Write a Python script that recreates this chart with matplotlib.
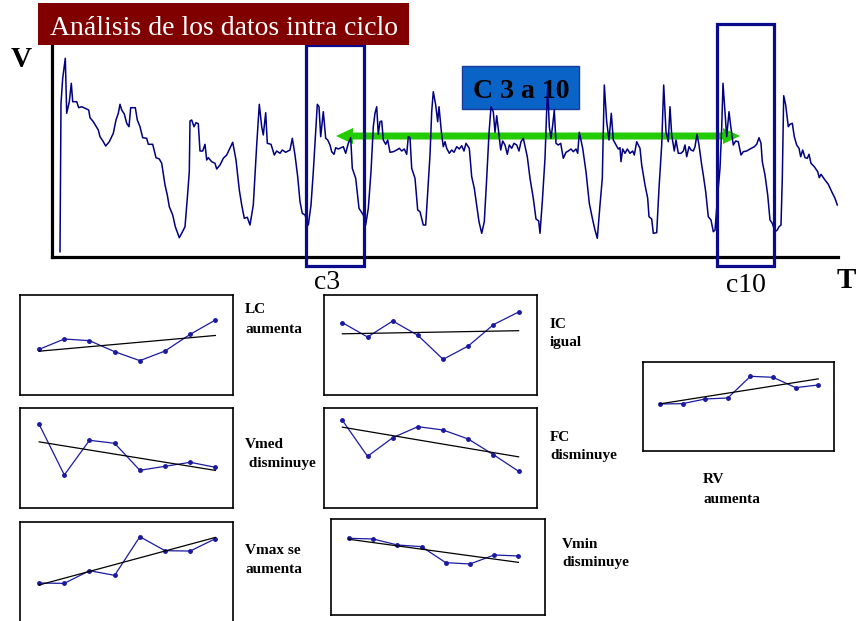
import numpy as np
import matplotlib.pyplot as plt
from matplotlib.patches import Rectangle, FancyArrow

# velocity trace (time units, velocity units)
t = [8, 9, 10.7, 13.3, 14.7, 17.3, 19.3, 20.7, 24.7, 26.7,
     29.7, 34.7, 36.7, 38, 41.3, 46.3, 48, 51.3, 53.7, 57.3,
     61.3, 64, 66.3, 68, 69.7, 72.3, 74.7, 77, 78.7, 83.3,
     85.3, 88, 90.7, 94.7, 96.3, 100.7, 104, 107.3, 109.7, 113,
     115.3, 117.3, 120.7, 123.3, 127.3, 130, 133, 135.3, 137.3, 138,
     139.7, 142, 144, 146.3, 148, 150.7, 153, 154.7, 156.3, 159.7,
     163, 164.7, 168, 171.3, 174.7, 180.7, 184, 187.3, 189.7, 192.3,
     195.3, 198,
     201.3, 204.7, 207.3, 209.7, 211.3, 213.7, 215.3, 219, 222.3, 224.7,
     228, 230.3, 233.7, 238, 240.3, 243, 245.7, 248, 250.3, 253,
     256.3, 259, 261.3, 263.7, 265.3, 267, 268.7, 271.3, 273.7, 275.7,
     278, 279.7, 282, 283.7, 286.3, 289, 291.3, 293.7, 296.3, 298.7,
     300.3, 303.7, 307, 311.3, 313.7, 316.3, 319, 321.3, 323, 324.7,
     326.3, 328, 329.7, 331.3, 333.7, 335.7, 338, 341.3, 344.7, 347.3,
     349.7, 352.3, 354.7, 356.3, 358, 359.7, 363, 365.7, 368, 371.3,
     373.7, 375.7, 378, 379.7, 381.3, 383.7, 385.7, 387, 389.7, 391.3,
     393,
     394.7, 397.3, 399.7, 402, 404.7, 407.3, 409.7, 412, 414, 417.3,
     419.7, 422.3, 424.7, 427, 429.7, 432.3, 434.7, 437, 439, 441.3,
     443, 444.7, 446.7, 448.7, 450.7, 453, 455.3, 457.3, 459.7, 462,
     464.7, 467, 469, 471.3, 475.3, 478, 481.3, 484, 486.7, 488,
     490.3, 493, 494.7, 495.7, 497.3, 499, 500.7, 502.3, 504, 506.3,
     508.7, 511.3, 514, 516.3, 519, 521.3, 524, 525.7, 527.3, 530.7,
     534, 537.3, 540.7, 543, 545.3, 548, 550.3, 552.3, 554.7, 557,
     559.3, 561.3, 563.7, 566.3, 568, 569, 570.7, 573, 575.3, 578,
     580.7, 582.3, 584.7,
     588, 589.7, 593, 595.7, 597, 599.7, 601.3, 604.7, 607, 609.7,
     611.7, 614, 616.3, 618, 619.7, 622.3, 624, 626.3, 629, 631.3,
     633, 634.7, 637, 639, 641.3, 643, 645, 647, 649.7, 651.3,
     653.7, 656.3, 659, 661.3, 663, 665.7, 668, 669.7, 671, 673,
     674.7, 677, 679, 681.3, 683.7, 686.3, 689, 691.3, 694.7, 698,
     702.3, 704.7, 707, 709, 710.3, 713, 715.7, 718, 720.3, 723,
     725.3, 727, 729, 730.3, 731.7, 733.7, 736.3, 738, 740.3, 742.3,
     744.7, 747, 748.7, 750.7, 753, 755.3, 757, 759, 762.3, 765.7,
     767.3, 769, 773, 776.3, 779.7, 783, 785.3]
v = [5.3, 153.7, 178.7, 198.7, 143.7, 155.3, 173.7, 155.3, 155.3, 149.3,
     150.3, 148, 147, 139.3, 135.3, 127, 120.3, 115.3, 111, 115.3,
     123.7, 137, 143.7, 152.7, 147, 143, 133.7, 130.3, 149.3, 149.3,
     137, 130.3, 119.3, 118.7, 112.7, 112.7, 99.3, 98, 93.7, 72,
     62, 50.3, 42, 30.3, 19.3, 24.3, 30.3, 58.7, 85.3, 136,
     137, 130.3, 134.3, 133.3, 106, 106, 112.7, 97, 99.3, 95.3,
     93.7, 88, 92, 98.7, 102, 114.7, 97, 67, 52, 38.7,
     39.7, 32,
     52, 112, 152.7, 130.3, 122, 144.3, 113.7, 112.7, 102, 106,
     103.7, 107, 104.7, 107, 118.7, 102, 80.3, 55.3, 43.7, 42,
     32, 52, 85.3, 125.3, 152.7, 150.3, 120.3, 145.3, 118.7, 117,
     112, 105.3, 102.7, 109.3, 108, 109.3, 110.3, 103.7, 113.7, 119.3,
     88.7, 78.7, 48.7, 42, 32, 48.7, 85.3, 130.3, 143.7, 150.3,
     122.7, 135.3, 136, 117, 112.7, 117, 104.7, 105.3, 107, 108.7,
     106, 108, 102.7, 120.3, 119.3, 88.7, 78.7, 47, 45.3, 32,
     32, 65.3, 102, 145.3, 165.3, 152, 135.3, 150.3, 122, 110.3,
     115.3,
     108.7, 103.7, 107, 104.7, 110.3, 108, 111.3, 106, 113.7, 108.7,
     80.3, 68.7, 52, 35.3, 23.7, 35.3, 78.7, 123.7, 150.3, 145.3,
     124.7, 141.3, 124.7, 107, 116, 112, 102.7, 112, 108.7, 113.7,
     112, 106, 115.3, 118.7, 100.3, 78.7, 58.7, 38, 36, 23.7,
     55.3, 98.7, 147, 168.7, 130.3, 118.7, 132, 147, 113.7, 112,
     113.7, 98.7, 104.7, 106, 108, 105.3, 108, 103.7, 124.7, 108.7,
     85.3, 53.7, 37, 27, 18.7, 52, 78.7, 172, 135.3, 117,
     143.7, 117, 112.7, 108, 109.3, 95.3, 108, 103.7, 108, 103.7,
     106, 102, 115.3,
     108.7, 92, 72, 58.7, 40.3, 38, 23.7, 24.3, 68.7, 112,
     172, 125.3, 115.3, 150.3, 122, 106, 117, 103.7, 103.7, 106,
     112, 100.3, 110.3, 107, 106, 110.3, 122.7, 112, 92, 82,
     65.3, 40.3, 37, 25.3, 27, 62, 88.7, 128.7, 173.7, 145.3,
     120.3, 145.3, 128.7, 112, 116, 115.3, 102, 105.3, 106, 108,
     110.3, 112.7, 119.3, 113.7, 95.3, 82, 62, 37, 33.7, 25.3,
     27, 30.3, 32, 78.7, 161.3, 152, 130.3, 132.7, 133.7, 120.3,
     112, 108.7, 100.3, 107, 99.3, 98.7, 102.7, 93.7, 90.3, 85.3,
     79.3, 82.7, 77, 72.7, 65.3, 58.7, 52]
assert len(t) == len(v)

# per-cycle parameters, cycles 3..10
LC = [137, 168, 163, 130, 103, 132, 182, 225]
IC = [217, 174, 222, 179, 107, 147, 211, 249]
Vmed = [252, 100, 204, 195, 114, 126, 138, 123]
FC = [263, 155, 211, 244, 234, 207, 160, 110]
Vmax = [116, 115, 153, 139, 255, 213, 212, 249]
Vmin = [230, 228, 210, 205, 157, 153, 180, 177]
RV = [141, 142, 156, 159, 224, 221, 190, 198]

W, H = 856, 621
SERIF = 'Liberation Serif'
NAVY = '#000080'

fig = plt.figure(figsize=(W / 100, H / 100), dpi=100)
inch = fig.dpi_scale_trans


def rect(l, top, r, b):
    return [l / W, 1 - b / H, (r - l) / W, (b - top) / H]


def fx(x):
    return x / W


def fy(y):
    return 1 - y / H


# main trace
ax = fig.add_axes(rect(52, 45, 838, 257))
ax.set_facecolor('none')
ax.plot(t, v, color=NAVY, lw=1.1)
ax.set_xlim(0, 786)
ax.set_ylim(0, 212)
ax.set_xticks([])
ax.set_yticks([])
ax.spines['top'].set_visible(False)
ax.spines['right'].set_visible(False)
ax.spines['left'].set_linewidth(2.3)
ax.spines['bottom'].set_linewidth(2.3)

# green double arrow (two halves from the middle), under the trace
mid, left, right, ya = 538, 336, 740, 136
for end in (left, right):
    fig.add_artist(FancyArrow(mid / 100, (H - ya) / 100, (end - mid) / 100, 0,
                              width=0.07, head_width=0.16, head_length=0.17,
                              length_includes_head=True, transform=inch,
                              color='#22cc00', lw=0, zorder=-1))

fig.add_artist(Rectangle((fx(462), fy(109)), fx(117), 43 / H,
                         transform=fig.transFigure, facecolor='#0a64c8',
                         edgecolor='#1a3a99', lw=1, zorder=-1))
fig.text(fx(521), fy(98), 'C 3 a 10', ha='center', va='baseline',
         family=SERIF, weight='bold', fontsize=20, zorder=-1)

# cycle boxes
for x0, x1, y0 in [(306, 364, 45), (717, 774, 24)]:
    fig.add_artist(Rectangle((fx(x0), fy(266)), fx(x1 - x0), (266 - y0) / H,
                             transform=fig.transFigure, fill=False,
                             edgecolor='#0a0a8c', lw=2.3, zorder=2))

# title
fig.add_artist(Rectangle((fx(38), fy(45)), fx(371), 42 / H,
                         transform=fig.transFigure, facecolor='#800000',
                         edgecolor='none', zorder=3))
fig.text(fx(224), fy(35), 'Análisis de los datos intra ciclo', color='white',
         ha='center', va='baseline', family=SERIF, fontsize=20, zorder=4)

fig.text(fx(21), fy(67), 'V', ha='center', va='baseline', family=SERIF,
         weight='bold', fontsize=21)
fig.text(fx(846), fy(288), 'T', ha='center', va='baseline', family=SERIF,
         weight='bold', fontsize=21)
fig.text(fx(327), fy(289), 'c3', ha='center', va='baseline', family=SERIF,
         fontsize=20)
fig.text(fx(746), fy(292), 'c10', ha='center', va='baseline', family=SERIF,
         fontsize=20)


def mini(box, vals, xlim, ylim):
    a = fig.add_axes(rect(*box))
    x = np.arange(len(vals))
    a.plot(x, vals, color='#1a1aa0', lw=0.9, marker='o', ms=2.5)
    k, b = np.polyfit(x, vals, 1)
    ends = np.array([x[0], x[-1]])
    a.plot(ends, k * ends + b, color='black', lw=0.9)
    a.set_xlim(*xlim)
    a.set_ylim(*ylim)
    a.set_xticks([])
    a.set_yticks([])
    for s in a.spines.values():
        s.set_linewidth(1.2)
    return a


mini((20, 295, 233, 395), LC, (-0.76, 7.7), (0, 300))
mini((20, 408.3, 233, 508.3), Vmed, (-0.76, 7.7), (0, 300))
mini((20, 521.7, 233, 621.7), Vmax, (-0.76, 7.7), (0, 300))
mini((324, 295, 537, 395), IC, (-0.73, 7.73), (0, 300))
mini((324, 408, 537, 508), FC, (-0.73, 7.73), (0, 300))
mini((331, 519.3, 545, 615), Vmin, (-0.74, 8.1), (0, 287))
mini((643.3, 362.3, 834.3, 451), RV, (-0.74, 7.71), (0, 266))

labels = [(245, 313.3, 'LC'), (245, 332.7, 'aumenta'),
          (245, 448.3, 'Vmed'), (245, 467.3, ' disminuye'),
          (245, 554, 'Vmax se'), (245, 572.7, 'aumenta'),
          (550, 328.3, 'IC'), (550, 346, 'igual'),
          (550, 440.7, 'FC'), (550, 459.3, 'disminuye'),
          (562, 548.3, 'Vmin'), (562, 566, 'disminuye'),
          (703, 483.3, 'RV'), (703, 502.7, 'aumenta')]
for x, y, s in labels:
    fig.text(fx(x), fy(y), s, ha='left', va='baseline', family=SERIF,
             weight='bold', fontsize=11)

fig.savefig('out.png', dpi=100)
